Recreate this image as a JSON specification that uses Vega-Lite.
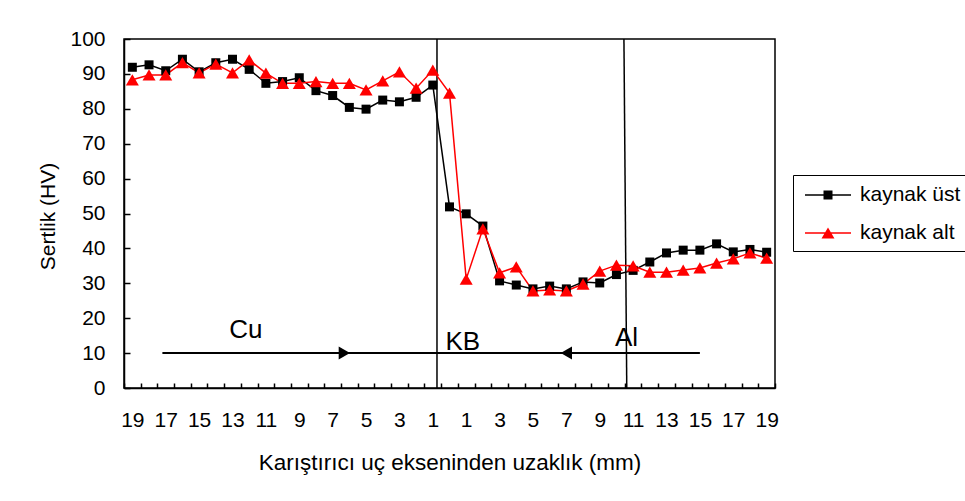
{
  "$schema": "https://vega.github.io/schema/vega-lite/v6.json",
  "autosize": "none",
  "width": 651,
  "height": 349,
  "padding": {"left": 124, "top": 39, "right": 190, "bottom": 113},
  "background": "white",
  "config": {
    "font": "Liberation Sans",
    "view": {"stroke": "black", "strokeWidth": 1.5},
    "axis": {"domainColor": "black", "domainWidth": 1.5, "tickColor": "black", "tickWidth": 1.5, "labelColor": "black", "titleColor": "black", "labelFont": "Liberation Sans", "titleFont": "Liberation Sans", "titleFontWeight": "normal", "grid": false, "labelOverlap": false},
    "legend": {"labelFont": "Liberation Sans"},
    "text": {"font": "Liberation Sans"}
  },
  "datasets": {
    "hardness": [
      {"pos": -19, "series": "kaynak üst", "value": 91.9},
      {"pos": -18, "series": "kaynak üst", "value": 92.6},
      {"pos": -17, "series": "kaynak üst", "value": 90.9},
      {"pos": -16, "series": "kaynak üst", "value": 94.2},
      {"pos": -15, "series": "kaynak üst", "value": 90.6},
      {"pos": -14, "series": "kaynak üst", "value": 93.2},
      {"pos": -13, "series": "kaynak üst", "value": 94.2},
      {"pos": -12, "series": "kaynak üst", "value": 91.3},
      {"pos": -11, "series": "kaynak üst", "value": 87.3},
      {"pos": -10, "series": "kaynak üst", "value": 87.8},
      {"pos": -9, "series": "kaynak üst", "value": 88.9},
      {"pos": -8, "series": "kaynak üst", "value": 85.2},
      {"pos": -7, "series": "kaynak üst", "value": 83.8},
      {"pos": -6, "series": "kaynak üst", "value": 80.4},
      {"pos": -5, "series": "kaynak üst", "value": 79.9},
      {"pos": -4, "series": "kaynak üst", "value": 82.5},
      {"pos": -3, "series": "kaynak üst", "value": 82.0},
      {"pos": -2, "series": "kaynak üst", "value": 83.3},
      {"pos": -1, "series": "kaynak üst", "value": 86.8},
      {"pos": 0, "series": "kaynak üst", "value": 51.9},
      {"pos": 1, "series": "kaynak üst", "value": 49.9},
      {"pos": 2, "series": "kaynak üst", "value": 46.4},
      {"pos": 3, "series": "kaynak üst", "value": 30.7},
      {"pos": 4, "series": "kaynak üst", "value": 29.5},
      {"pos": 5, "series": "kaynak üst", "value": 28.4},
      {"pos": 6, "series": "kaynak üst", "value": 29.2},
      {"pos": 7, "series": "kaynak üst", "value": 28.4},
      {"pos": 8, "series": "kaynak üst", "value": 30.4},
      {"pos": 9, "series": "kaynak üst", "value": 30.1},
      {"pos": 10, "series": "kaynak üst", "value": 32.5},
      {"pos": 11, "series": "kaynak üst", "value": 33.7},
      {"pos": 12, "series": "kaynak üst", "value": 36.1},
      {"pos": 13, "series": "kaynak üst", "value": 38.7},
      {"pos": 14, "series": "kaynak üst", "value": 39.5},
      {"pos": 15, "series": "kaynak üst", "value": 39.5},
      {"pos": 16, "series": "kaynak üst", "value": 41.3},
      {"pos": 17, "series": "kaynak üst", "value": 39.0},
      {"pos": 18, "series": "kaynak üst", "value": 39.7},
      {"pos": 19, "series": "kaynak üst", "value": 38.9},
      {"pos": -19, "series": "kaynak alt", "value": 88.3},
      {"pos": -18, "series": "kaynak alt", "value": 89.7},
      {"pos": -17, "series": "kaynak alt", "value": 89.7},
      {"pos": -16, "series": "kaynak alt", "value": 93.2},
      {"pos": -15, "series": "kaynak alt", "value": 90.3},
      {"pos": -14, "series": "kaynak alt", "value": 92.8},
      {"pos": -13, "series": "kaynak alt", "value": 90.3},
      {"pos": -12, "series": "kaynak alt", "value": 94.0},
      {"pos": -11, "series": "kaynak alt", "value": 90.2},
      {"pos": -10, "series": "kaynak alt", "value": 87.3},
      {"pos": -9, "series": "kaynak alt", "value": 87.3},
      {"pos": -8, "series": "kaynak alt", "value": 87.8},
      {"pos": -7, "series": "kaynak alt", "value": 87.3},
      {"pos": -6, "series": "kaynak alt", "value": 87.3},
      {"pos": -5, "series": "kaynak alt", "value": 85.4},
      {"pos": -4, "series": "kaynak alt", "value": 88.0},
      {"pos": -3, "series": "kaynak alt", "value": 90.6},
      {"pos": -2, "series": "kaynak alt", "value": 85.9},
      {"pos": -1, "series": "kaynak alt", "value": 91.1},
      {"pos": 0, "series": "kaynak alt", "value": 84.5},
      {"pos": 1, "series": "kaynak alt", "value": 31.2},
      {"pos": 2, "series": "kaynak alt", "value": 45.6},
      {"pos": 3, "series": "kaynak alt", "value": 33.0},
      {"pos": 4, "series": "kaynak alt", "value": 34.7},
      {"pos": 5, "series": "kaynak alt", "value": 27.8},
      {"pos": 6, "series": "kaynak alt", "value": 28.1},
      {"pos": 7, "series": "kaynak alt", "value": 27.8},
      {"pos": 8, "series": "kaynak alt", "value": 29.8},
      {"pos": 9, "series": "kaynak alt", "value": 33.5},
      {"pos": 10, "series": "kaynak alt", "value": 35.2},
      {"pos": 11, "series": "kaynak alt", "value": 35.0},
      {"pos": 12, "series": "kaynak alt", "value": 33.2},
      {"pos": 13, "series": "kaynak alt", "value": 33.2},
      {"pos": 14, "series": "kaynak alt", "value": 33.8},
      {"pos": 15, "series": "kaynak alt", "value": 34.4},
      {"pos": 16, "series": "kaynak alt", "value": 35.8},
      {"pos": 17, "series": "kaynak alt", "value": 37.0},
      {"pos": 18, "series": "kaynak alt", "value": 38.7},
      {"pos": 19, "series": "kaynak alt", "value": 37.2}
    ]
  },
  "layer": [
    {
      "data": {"values": [{"x1": -0.75, "x2": -0.75, "y1": 100, "y2": 0}, {"x1": 10.45, "x2": 10.62, "y1": 100, "y2": 0}]},
      "mark": {"type": "rule", "color": "black", "strokeWidth": 1.5},
      "encoding": {
        "x": {
          "field": "x1", "type": "quantitative",
          "scale": {"domain": [-19.5, 19.5], "nice": false, "zero": false},
          "axis": {
            "values": [-19.5,-19,-18.5,-17.5,-17,-16.5,-15.5,-15,-14.5,-13.5,-13,-12.5,-11.5,-11,-10.5,-9.5,-9,-8.5,-7.5,-7,-6.5,-5.5,-5,-4.5,-3.5,-3,-2.5,-1.5,-1,-0.5,0.5,1,1.5,2.5,3,3.5,4.5,5,5.5,6.5,7,7.5,8.5,9,9.5,10.5,11,11.5,12.5,13,13.5,14.5,15,15.5,16.5,17,17.5,18.5,19,19.5],
            "tickCount": 200,
            "labelExpr": "abs(datum.value) % 2 == 1 ? format(abs(datum.value), 'd') : ''",
            "labelFontSize": 21,
            "labelPadding": 26,
            "labelOverlap": false,
            "labelBound": false,
            "labelFlush": false,
            "tickSize": -5,
            "tickOpacity": {"condition": {"test": "datum.value % 1 != 0", "value": 1}, "value": 0},
            "title": "Karıştırıcı uç ekseninden uzaklık (mm)",
            "titleFontSize": 22.5,
            "titleBaseline": "middle",
            "titleY": 74
          }
        },
        "x2": {"field": "x2"},
        "y": {
          "field": "y1", "type": "quantitative",
          "scale": {"domain": [0, 100], "nice": false},
          "axis": {
            "values": [0,10,20,30,40,50,60,70,80,90,100],
            "tickCount": 50,
            "labelFontSize": 21,
            "labelPadding": 25,
            "labelOverlap": false,
            "tickSize": -6,
            "title": "Sertlik (HV)",
            "titleFontSize": 21,
            "titleAngle": -90,
            "titleBaseline": "middle",
            "titleAlign": "center",
            "titleX": -76,
            "titleY": 177
          }
        },
        "y2": {"field": "y2"}
      }
    },
    {
      "data": {"values": [{"from": -17.2, "to": 15.0, "level": 10}]},
      "mark": {"type": "rule", "color": "black", "strokeWidth": 2},
      "encoding": {
        "x": {"field": "from", "type": "quantitative"},
        "x2": {"field": "to"},
        "y": {"field": "level", "type": "quantitative"}
      }
    },
    {
      "data": {"values": [{"at": -6.3, "level": 10}]},
      "mark": {"type": "point", "filled": true, "color": "black", "size": 170, "opacity": 1, "shape": "triangle-right"},
      "encoding": {
        "x": {"field": "at", "type": "quantitative"},
        "y": {"field": "level", "type": "quantitative"}
      }
    },
    {
      "data": {"values": [{"at": 7.0, "level": 10}]},
      "mark": {"type": "point", "filled": true, "color": "black", "size": 170, "opacity": 1, "shape": "triangle-left"},
      "encoding": {
        "x": {"field": "at", "type": "quantitative"},
        "y": {"field": "level", "type": "quantitative"}
      }
    },
    {
      "data": {"values": [{"label": "Cu", "at": -12.2, "level": 16.6}, {"label": "KB", "at": 0.8, "level": 13.3}, {"label": "Al", "at": 10.6, "level": 14.2}]},
      "mark": {"type": "text", "fontSize": 26, "color": "black", "baseline": "middle", "align": "center"},
      "encoding": {
        "x": {"field": "at", "type": "quantitative"},
        "y": {"field": "level", "type": "quantitative"},
        "text": {"field": "label"}
      }
    },
    {
      "data": {"name": "hardness"},
      "mark": {"type": "line", "strokeWidth": 1.5},
      "encoding": {
        "x": {"field": "pos", "type": "quantitative"},
        "y": {"field": "value", "type": "quantitative"},
        "color": {
          "field": "series", "type": "nominal",
          "scale": {"domain": ["kaynak üst", "kaynak alt"], "range": ["black", "red"]}
        }
      }
    },
    {
      "data": {"name": "hardness"},
      "transform": [{"filter": "datum.series === 'kaynak üst'"}],
      "mark": {"type": "point", "filled": true, "opacity": 1, "shape": "square", "size": 81},
      "encoding": {
        "x": {"field": "pos", "type": "quantitative"},
        "y": {"field": "value", "type": "quantitative"},
        "color": {"field": "series", "type": "nominal"}
      }
    },
    {
      "data": {"name": "hardness"},
      "transform": [{"filter": "datum.series === 'kaynak alt'"}],
      "mark": {"type": "point", "filled": true, "opacity": 1, "shape": "M0,-0.866L1,0.866L-1,0.866Z", "size": 169},
      "encoding": {
        "x": {"field": "pos", "type": "quantitative"},
        "y": {"field": "value", "type": "quantitative"},
        "color": {"field": "series", "type": "nominal"}
      }
    },
    {
      "data": {"values": []},
      "mark": {"type": "point", "filled": true, "opacity": 1, "size": 576},
      "encoding": {
        "x": {"field": "pos", "type": "quantitative"},
        "y": {"field": "value", "type": "quantitative"},
        "color": {
          "field": "series", "type": "nominal",
          "legend": {
            "title": null,
            "orient": "none",
            "legendX": 669,
            "legendY": 136,
            "strokeColor": "black",
            "fillColor": "white",
            "padding": 8,
            "labelFontSize": 21,
            "labelColor": "black",
            "symbolSize": 576,
            "symbolOpacity": 1,
            "symbolStrokeWidth": 0,
            "symbolOffset": 15,
            "labelOffset": 20,
            "rowPadding": 16
          }
        },
        "shape": {
          "field": "series", "type": "nominal",
          "scale": {"domain": ["kaynak üst", "kaynak alt"], "range": ["M-1.92,-0.07H1.92V0.07H-1.92ZM-0.375,-0.375H0.375V0.375H-0.375Z", "M-1.92,-0.07H1.92V0.07H-1.92ZM0,-0.46L0.54,0.46H-0.54Z"]}
        }
      }
    }
  ]
}
